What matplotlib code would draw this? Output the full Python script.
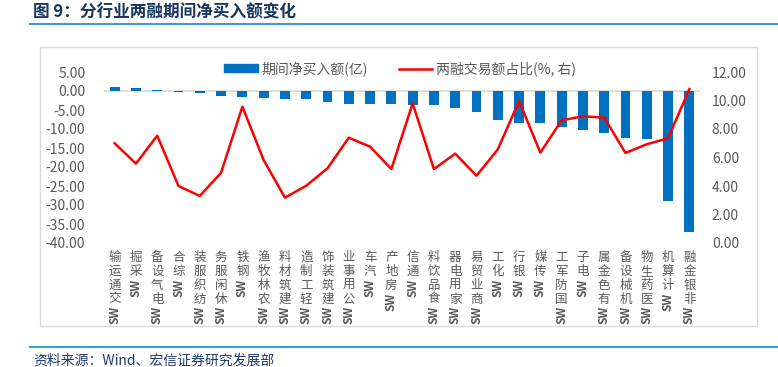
import matplotlib
matplotlib.use('Agg')
import matplotlib.pyplot as plt
from matplotlib.patches import Rectangle
from matplotlib.lines import Line2D
import numpy as np

categories = ['SW交通运输', 'SW采掘', 'SW电气设备', 'SW综合', 'SW纺织服装', 'SW休闲服务',
              'SW钢铁', 'SW农林牧渔', 'SW建筑材料', 'SW轻工制造', 'SW建筑装饰', 'SW公用事业',
              'SW汽车', 'SW房地产', 'SW通信', 'SW食品饮料', 'SW家用电器', 'SW商业贸易',
              'SW化工', 'SW银行', 'SW传媒', 'SW国防军工', 'SW电子', 'SW有色金属',
              'SW机械设备', 'SW医药生物', 'SW计算机', 'SW非银金融']
net_buy = [1.0, 0.8, 0.3, -0.3, -0.5, -1.3, -1.7, -1.9, -2.0, -2.2, -3.0, -3.3,
           -3.3, -3.4, -3.6, -3.8, -4.6, -5.4, -7.6, -8.4, -8.4, -9.6, -10.3, -11.0,
           -12.3, -12.5, -28.9, -37.1]
ratio = [7.0, 5.57, 7.53, 4.0, 3.3, 4.93, 9.57, 5.82, 3.18, 4.02, 5.24, 7.39,
         6.76, 5.19, 9.8, 5.19, 6.27, 4.72, 6.57, 9.96, 6.34, 8.61, 8.89, 8.8,
         6.32, 6.93, 7.35, 10.8]
left_ticks = [5, 0, -5, -10, -15, -20, -25, -30, -35, -40]
right_ticks = [0, 2, 4, 6, 8, 10, 12]
bar_label = '期间净买入额(亿)'
line_label = '两融交易额占比(%, 右)'
title = '图 9：分行业两融期间净买入额变化'
source = '资料来源：Wind、宏信证券研究发展部'

plt.rcParams['font.family'] = ['Noto Sans CJK SC', 'DejaVu Sans']

W, H = 778, 367
fig = plt.figure(figsize=(W / 100, H / 100), dpi=100)
ax = fig.add_axes([104 / W, 1 - 243 / H, 596 / W, 171 / H])
ax2 = ax.twinx()

gray = '#595959'
x = np.arange(len(categories))
ax.bar(x, net_buy, width=0.46, color='#0070C0', zorder=2)
ax.axhline(0, color='#D9D9D9', lw=1.2, zorder=1)
ax.set_xlim(-0.5, len(categories) - 0.5)
ax.set_ylim(-40, 5)
ax.set_yticks(left_ticks)
ax.set_yticklabels([f'{v:.2f}' for v in left_ticks])
ax.tick_params(axis='y', length=0, pad=13.5, labelsize=10, labelcolor=gray)
ax.tick_params(axis='x', length=0, labelbottom=False)

ax2.plot(x, ratio, color='#FF0000', lw=1.8, zorder=3)
ax2.set_ylim(0, 12)
ax2.set_yticks(right_ticks)
ax2.set_yticklabels([f'{v:.2f}' for v in right_ticks])
ax2.tick_params(axis='y', length=0, pad=8.5, labelsize=10, labelcolor=gray)

for a in (ax, ax2):
    for s in a.spines.values():
        s.set_visible(False)

# x labels: CJK characters upright, stacked bottom-to-top, "SW" rotated
pt = 0.72
for i, name in enumerate(categories):
    rest = name[2:]
    chars = list(rest)[::-1]
    for k, ch in enumerate(chars):
        off = (14.7 + k * 13.8) * pt
        ax.annotate(ch, xy=(i, 0), xycoords=('data', 'axes fraction'),
                    xytext=(0, -off), textcoords='offset points',
                    ha='center', va='center', fontsize=9, color=gray,
                    annotation_clip=False)
    off = (14.7 + (len(chars) - 1) * 13.8 + 7.2) * pt
    ax.annotate('SW', xy=(i, 0), xycoords=('data', 'axes fraction'),
                xytext=(0, -off), textcoords='offset points',
                ha='center', va='top', rotation=90, fontsize=8.5, color=gray,
                fontweight='bold', annotation_clip=False)

handles = [Rectangle((0, 0), 1, 1, color='#0070C0'),
           Line2D([], [], color='#FF0000', lw=1.8)]
ax2.legend(handles, [bar_label, line_label], loc='center',
           bbox_to_anchor=(0.497, 1.02), ncol=2, frameon=False, fontsize=10,
           handlelength=2.4, handleheight=0.55, columnspacing=2.2,
           handletextpad=0.3, labelcolor=gray, borderaxespad=0, borderpad=0)

# frame, title, rules, source
fig.add_artist(Rectangle((40 / W, 1 - 326 / H), 717 / W, 279 / H,
                         transform=fig.transFigure, fill=False,
                         ec='#D9D9D9', lw=1))
fig.add_artist(Line2D([30 / W, 1], [1 - 24 / H] * 2, transform=fig.transFigure,
                      color='#3E9BDA', lw=1.5))
fig.add_artist(Line2D([30 / W, 1], [1 - 347 / H] * 2, transform=fig.transFigure,
                      color='#3E9BDA', lw=1.5))
fig.text(33 / W, 1 - 12 / H, title, ha='left', va='center', fontsize=12,
         fontweight='bold', color='#17375E')
fig.text(33 / W, 1 - 361 / H, source, ha='left', va='center', fontsize=10,
         color='#1F3A6E')

fig.savefig('out.png', dpi=100)
